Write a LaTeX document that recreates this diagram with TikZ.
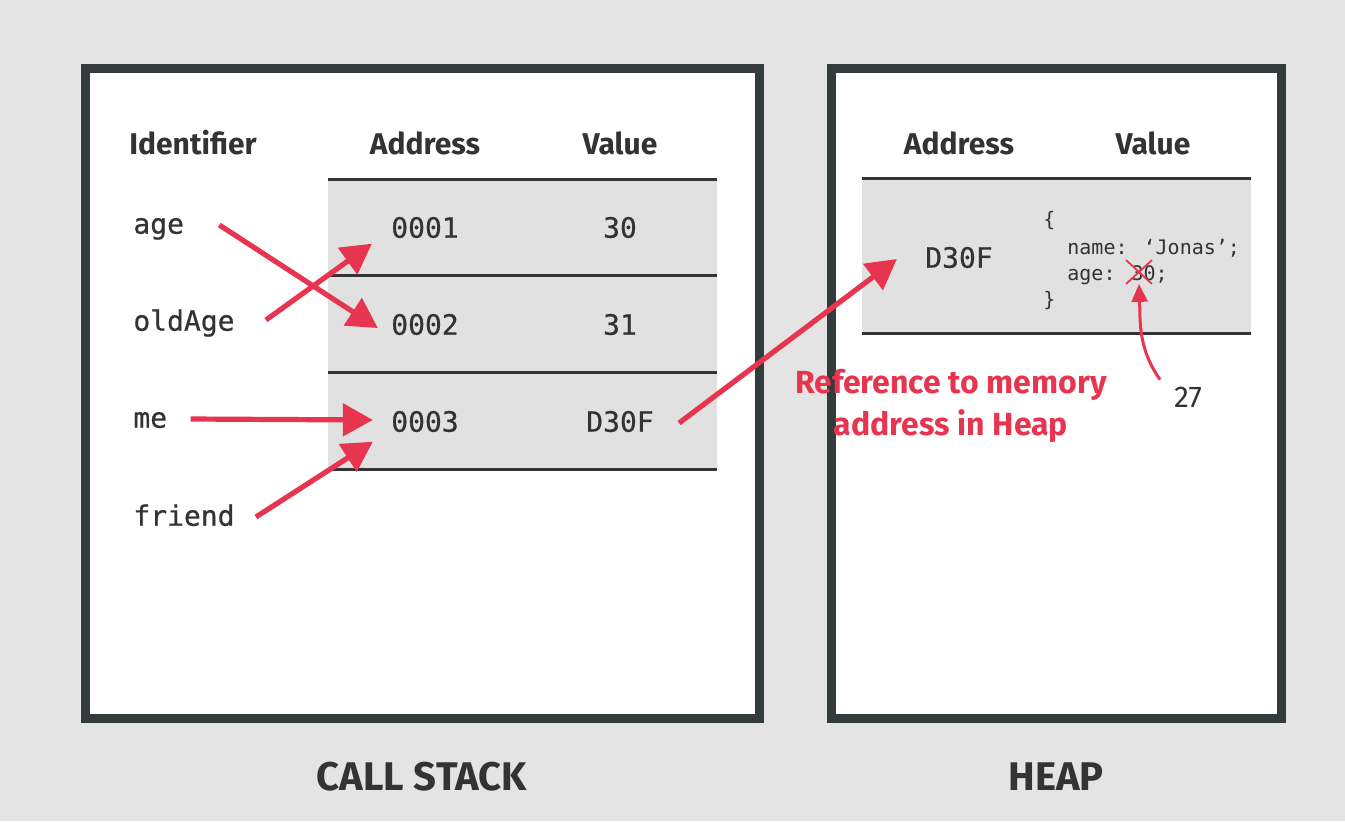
\documentclass[tikz,border=0pt]{standalone}
\usepackage{fontspec}
\setmainfont{Fira Sans}
\newfontfamily\monofont[FakeBold=0.6]{DejaVu Sans Mono}
\newfontfamily\codefont{DejaVu Sans Mono}
\usetikzlibrary{arrows.meta,shapes.misc}
\definecolor{bg}{HTML}{E4E4E4}
\definecolor{framec}{HTML}{343B3D}
\definecolor{cellc}{HTML}{E1E1E1}
\definecolor{ink}{HTML}{333333}
\definecolor{refred}{HTML}{E8354F}
\begin{document}
\begin{tikzpicture}[x=0.5pt,y=-0.5pt,>={Triangle[length=15pt,width=16pt]},
	frame/.style={draw=framec,line width=4.5pt,fill=white},
	rule/.style={draw=ink,line width=1.5pt},
	head/.style={font=\fontsize{15}{18}\selectfont\bfseries,text=ink},
	mono/.style={font=\fontsize{14}{16}\monofont,text=ink,inner sep=0pt,text height=12pt,text depth=1.3pt},
	code/.style={font=\fontsize{10}{12}\codefont,text=ink,inner sep=0pt,anchor=west,text height=9pt,text depth=0.5pt},
	ref/.style={->,draw=refred,line width=2.6pt},
	title/.style={font=\fontsize{20}{24}\selectfont\bfseries,text=ink}]
	\fill[bg] (0,0) rectangle (1345,821);
	\useasboundingbox (0,0) rectangle (1345,821);
	% the two boxes
	\draw[frame] (85.5,68.5) rectangle (759.5,718.5);
	\draw[frame] (831.5,68.5) rectangle (1281.5,718.5);
	\fill[cellc] (328,179) rectangle (717,469);
	\fill[cellc] (862,178) rectangle (1251,333);
	\foreach \y in {179,275,372,469} \draw[rule] (328,\y) -- (717,\y);
	\foreach \y in {178,333} \draw[rule] (862,\y) -- (1251,\y);
	% headers
	\node[head] (hid) at (193,143) {Identifier};
	\node[head] (haddr) at (425,143) {Address};
	\node[head] (hval) at (620,143) {Value};
	\node[head] (heapaddr) at (959,143) {Address};
	\node[head] (heapval) at (1153,143) {Value};
	% call stack rows
	\foreach \a/\v [count=\i] in {0001/30,0002/31,0003/D30F} {
		\node[mono] (addr\i) at (425,{130+97*\i}) {\a};
		\node[mono] (val\i) at (620,{130+97*\i}) {\v};
	}
	\node[mono,anchor=west] (age) at (133,223) {age};
	\node[mono,anchor=west] (oldAge) at (133,320) {oldAge};
	\node[mono,anchor=west] (me) at (133,417) {me};
	\node[mono,anchor=west] (friend) at (133,515) {friend};
	% heap row
	\node[mono] (heapaddr1) at (959,257) {D30F};
	\node[code] (lbrace) at (1043,218) {\{};
	\node[code] (lname) at (1067,246) {name: ‘Jonas’;};
	\node[code] (lage) at (1067,272) {age: 30;};
	\node[code] (rbrace) at (1043,298) {\}};
	\node[cross out,draw=refred,line width=0.9pt,inner sep=0pt,minimum width=12pt,minimum height=11pt] (old) at (1139,272) {};
	% references
	\draw[ref] ([shift={(35,2)}]age.east) -- ([shift={(-13,4)}]addr2.west);
	\draw[ref] ([shift={(31,0)}]oldAge.east) -- ([shift={(-19,3)}]addr1.south west);
	\draw[ref] ([shift={(23,2)}]me.east) -- ([shift={(-18,-1)}]addr3.west);
	\draw[ref] ([shift={(21,2)}]friend.east) -- ([shift={(-18,7)}]addr3.south west);
	\draw[ref] ([shift={(25,2)}]val3.east) -- ([shift={(-28,2)}]heapaddr1.west);
	\node[font=\fontsize{16}{21}\selectfont\bfseries,text=refred,align=center] (note) at (951,406) {Reference to memory\\address in Heap};
	\node[font=\fontsize{15}{17}\selectfont,text=ink] (n27) at (1188,397) {27};
	\draw[refred,line width=1.5pt,-{Triangle[length=9pt,width=8pt]}] ([shift={(-7,0)}]n27.north west) to[out=125,in=-88] (old.south);
	% titles
	\node[title] (stack) at (422,777) {CALL STACK};
	\node[title] (heap) at (1056,777) {HEAP};
\end{tikzpicture}
\end{document}
